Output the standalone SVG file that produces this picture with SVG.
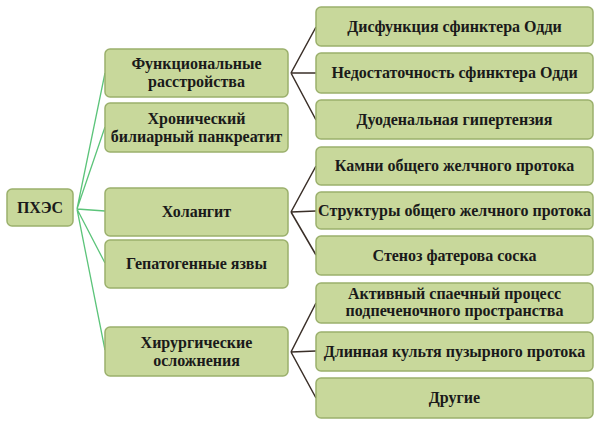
<svg xmlns="http://www.w3.org/2000/svg" width="600" height="421" viewBox="0 0 600 421">
<style>
.box{fill:#c8d89b;stroke:#9bb06c;stroke-width:1.5}
.t{font-family:"Liberation Serif","DejaVu Serif",serif;font-weight:bold;font-size:16px;fill:#1a1a1a;text-anchor:middle}
.g{stroke:#5cc47a;stroke-width:1.3;fill:none}
.k{stroke:#3a2f28;stroke-width:1.5;fill:none}
</style>
<rect width="600" height="421" fill="#ffffff"/>
<g id="connectors">
<path class="g" d="M77 209 L105 73 M77 209 L105 127 M77 209 L105 211 M77 209 L105 263 M77 209 L105 350"/>
<path class="k" d="M291 73 L316 27 M291 73 L316 73 M291 73 L316 120"/>
<path class="k" d="M291 212 L316 166 M291 212 L316 211 M291 212 L316 255"/>
<path class="k" d="M291 352 L316 303 M291 352 L316 351 M291 352 L316 398"/>
</g>
<g id="n0"><rect class="box" x="7" y="189" width="66" height="37" rx="5"/><text class="t" x="40" y="213">ПХЭС</text></g>
<g id="m1"><rect class="box" x="105" y="49" width="183" height="48" rx="5"/><text class="t" x="196.5" y="69">Функциональные</text><text class="t" x="196.5" y="87">расстройства</text></g>
<g id="m2"><rect class="box" x="105" y="103" width="183" height="49" rx="5"/><text class="t" x="196.5" y="124">Хронический</text><text class="t" x="196.5" y="142">билиарный панкреатит</text></g>
<g id="m3"><rect class="box" x="105" y="188" width="183" height="48" rx="5"/><text class="t" x="196.5" y="217">Холангит</text></g>
<g id="m4"><rect class="box" x="105" y="240" width="183" height="48" rx="5"/><text class="t" x="196.5" y="269">Гепатогенные язвы</text></g>
<g id="m5"><rect class="box" x="105" y="327" width="183" height="49" rx="5"/><text class="t" x="196.5" y="348">Хирургические</text><text class="t" x="196.5" y="366">осложнения</text></g>
<g id="r1"><rect class="box" x="316" y="7" width="277" height="39" rx="5"/><text class="t" x="454.5" y="32">Дисфункция сфинктера Одди</text></g>
<g id="r2"><rect class="box" x="316" y="53" width="277" height="40" rx="5"/><text class="t" x="454.5" y="78">Недостаточность сфинктера Одди</text></g>
<g id="r3"><rect class="box" x="316" y="100" width="277" height="39" rx="5"/><text class="t" x="454.5" y="125">Дуоденальная гипертензия</text></g>
<g id="r4"><rect class="box" x="316" y="147" width="277" height="38" rx="5"/><text class="t" x="454.5" y="171">Камни общего желчного протока</text></g>
<g id="r5"><rect class="box" x="316" y="192" width="277" height="37" rx="5"/><text class="t" x="454.5" y="216">Структуры общего желчного протока</text></g>
<g id="r6"><rect class="box" x="316" y="236" width="277" height="39" rx="5"/><text class="t" x="454.5" y="261">Стеноз фатерова соска</text></g>
<g id="r7"><rect class="box" x="316" y="283" width="277" height="40" rx="5"/><text class="t" x="454.5" y="299">Активный спаечный процесс</text><text class="t" x="454.5" y="316">подпеченочного пространства</text></g>
<g id="r8"><rect class="box" x="316" y="332" width="277" height="39" rx="5"/><text class="t" x="454.5" y="357">Длинная культя пузырного протока</text></g>
<g id="r9"><rect class="box" x="316" y="378" width="277" height="40" rx="5"/><text class="t" x="454.5" y="403">Другие</text></g>
</svg>
